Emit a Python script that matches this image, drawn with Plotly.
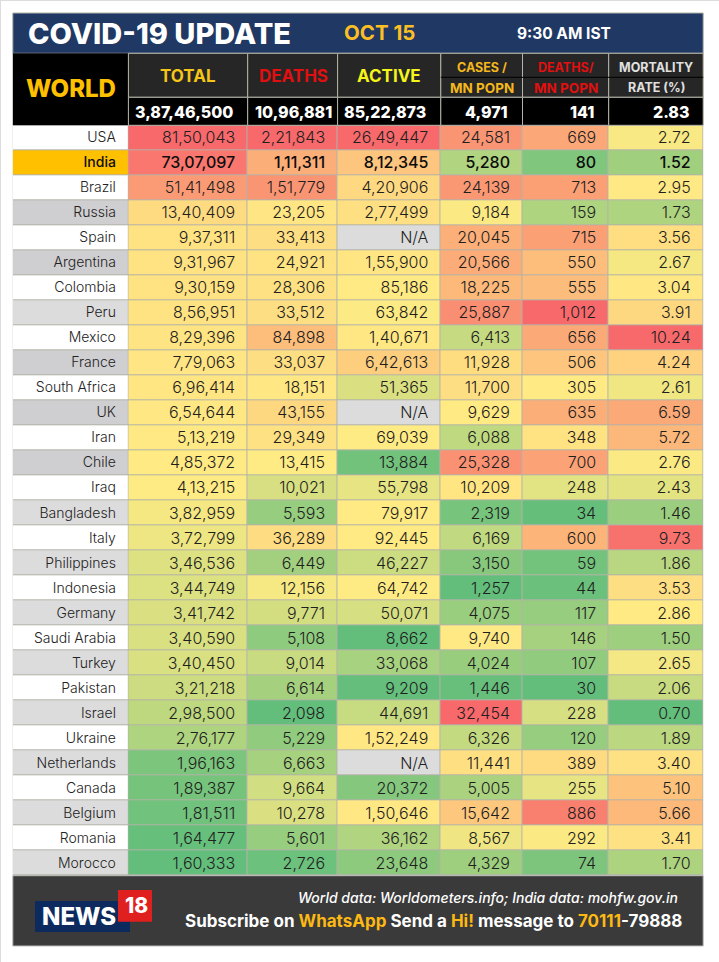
import numpy as np
import plotly.graph_objects as go

# Data (Indian digit grouping kept as labels)
countries = ["USA", "India", "Brazil", "Russia", "Spain", "Argentina", "Colombia", "Peru", "Mexico", "France",
             "South Africa", "UK", "Iran", "Chile", "Iraq", "Bangladesh", "Italy", "Philippines", "Indonesia",
             "Germany", "Saudi Arabia", "Turkey", "Pakistan", "Israel", "Ukraine", "Netherlands", "Canada",
             "Belgium", "Romania", "Morocco"]
total = ["81,50,043", "73,07,097", "51,41,498", "13,40,409", "9,37,311", "9,31,967", "9,30,159", "8,56,951",
         "8,29,396", "7,79,063", "6,96,414", "6,54,644", "5,13,219", "4,85,372", "4,13,215", "3,82,959",
         "3,72,799", "3,46,536", "3,44,749", "3,41,742", "3,40,590", "3,40,450", "3,21,218", "2,98,500",
         "2,76,177", "1,96,163", "1,89,387", "1,81,511", "1,64,477", "1,60,333"]
deaths = ["2,21,843", "1,11,311", "1,51,779", "23,205", "33,413", "24,921", "28,306", "33,512", "84,898", "33,037",
          "18,151", "43,155", "29,349", "13,415", "10,021", "5,593", "36,289", "6,449", "12,156", "9,771",
          "5,108", "9,014", "6,614", "2,098", "5,229", "6,663", "9,664", "10,278", "5,601", "2,726"]
active = ["26,49,447", "8,12,345", "4,20,906", "2,77,499", "N/A", "1,55,900", "85,186", "63,842", "1,40,671",
          "6,42,613", "51,365", "N/A", "69,039", "13,884", "55,798", "79,917", "92,445", "46,227", "64,742",
          "50,071", "8,662", "33,068", "9,209", "44,691", "1,52,249", "N/A", "20,372", "1,50,646", "36,162", "23,648"]
cases_mn = ["24,581", "5,280", "24,139", "9,184", "20,045", "20,566", "18,225", "25,887", "6,413", "11,928",
            "11,700", "9,629", "6,088", "25,328", "10,209", "2,319", "6,169", "3,150", "1,257", "4,075",
            "9,740", "4,024", "1,446", "32,454", "6,326", "11,441", "5,005", "15,642", "8,567", "4,329"]
deaths_mn = ["669", "80", "713", "159", "715", "550", "555", "1,012", "656", "506", "305", "635", "348", "700",
             "248", "34", "600", "59", "44", "117", "146", "107", "30", "228", "120", "389", "255", "886", "292", "74"]
mortality = ["2.72", "1.52", "2.95", "1.73", "3.56", "2.67", "3.04", "3.91", "10.24", "4.24", "2.61", "6.59",
             "5.72", "2.76", "2.43", "1.46", "9.73", "1.86", "3.53", "2.86", "1.50", "2.65", "2.06", "0.70",
             "1.89", "3.40", "5.10", "5.66", "3.41", "1.70"]
world_totals = ["3,87,46,500", "10,96,881", "85,22,873", "4,971", "141", "2.83"]
row_shade = [0, 3, 0, 2, 0, 2, 0, 1, 0, 2, 0, 2, 0, 2, 0, 1, 0, 1, 0, 1, 0, 1, 0, 1, 0, 1, 0, 1, 0, 1]

W, H = 719, 962
FONT = "Inter"
COL_EDGES = [128.4, 247.7, 337.6, 440.8, 522.5, 608.7, 703.2]
LEFT = 12.8
ROWS_TOP, ROWS_BOTTOM = 125.3, 875.7
GRID = "#b3b3a9"
PAD = 12.5
TOTAL_PADS = [13, 4, 13, 13, 12.5, 12]


def py(y):
    return 1 - y / H


def to_num(label):
    return np.nan if label == "N/A" else float(label.replace(",", ""))


def scale_column(labels):
    # green - yellow - red around the column median, like the sheet's colour rule
    v = np.array([to_num(s) for s in labels])
    lo, mid, hi = np.nanmin(v), np.nanmedian(v), np.nanmax(v)
    z = np.where(v >= mid, (v - mid) / (hi - mid), (v - mid) / (mid - lo))
    return np.where(np.isnan(v), -2.0, z)


columns = [total, deaths, active, cases_mn, deaths_mn, mortality]
z = np.column_stack([scale_column(c) for c in columns])
rows = list(range(len(countries)))

fig = go.Figure()

fig.add_trace(go.Heatmap(
    z=z, x=COL_EDGES, y=rows, xgap=1, ygap=1, zmin=-2, zmax=1, showscale=False, hoverinfo="skip",
    colorscale=[[0, "#dcdcdc"], [0.33, "#dcdcdc"], [0.3333, "#63be7b"], [0.66667, "#ffeb84"], [1, "#f8696b"]],
))
fig.add_trace(go.Heatmap(
    z=[[s] for s in row_shade], x=[LEFT, COL_EDGES[0]], y=rows, xgap=1, ygap=1, zmin=0, zmax=3,
    showscale=False, hoverinfo="skip",
    colorscale=[[0, "#ffffff"], [0.2, "#ffffff"], [0.2, "#dcdcdc"], [0.5, "#dcdcdc"], [0.5, "#cfced0"],
                [0.8, "#cfced0"], [0.8, "#ffc000"], [1, "#ffc000"]],
))

# Values, right aligned in each column
for edge, labels in zip(COL_EDGES[1:], columns):
    fig.add_trace(go.Scatter(
        x=[edge - PAD] * len(labels), y=[r + 0.06 for r in rows], mode="text", text=labels,
        textposition="middle left",
        textfont=dict(family=FONT, size=16, color=["#0d0d0d" if c == "India" else "#1f1f1f" for c in countries],
                      weight=[500 if c == "India" else 300 for c in countries]),
        hoverinfo="skip", cliponaxis=False,
    ))
fig.add_trace(go.Scatter(
    x=[COL_EDGES[0] - PAD] * len(countries), y=[r + 0.04 for r in rows], mode="text", text=countries,
    textposition="middle left",
    textfont=dict(family=FONT, size=14, color=["#0d0d0d" if c == "India" else "#222222" for c in countries],
                  weight=[500 if c == "India" else 300 for c in countries]),
    hoverinfo="skip", cliponaxis=False,
))


def box(x0, x1, y0, y1, fill, line=None):
    fig.add_shape(type="rect", xref="paper", yref="paper", x0=x0 / W, x1=x1 / W, y0=py(y0), y1=py(y1),
                  fillcolor=fill, line=dict(color=line, width=1) if line else dict(width=0))


def label(x, y, text, size, color="#ffffff", anchor="center", weight=700, italic=False):
    fig.add_annotation(xref="paper", yref="paper", x=x / W, y=py(y), text=text, showarrow=False, xanchor=anchor,
                       yanchor="middle", font=dict(family=FONT, size=size, color=color, weight=weight,
                                                   style="italic" if italic else "normal"))


# Page edge, banner
box(0, W, 0, 1, "#dcdcdc")
box(0, 1, 0, H, "#dcdcdc")
box(LEFT, COL_EDGES[-1], 13, 53.3, "#1f3864", GRID)
label(26, 33.5, "COVID-19 UPDATE", 29, anchor="left", weight=800)
label(342, 33, "OCT 15", 20.5, "#fbbf24", anchor="left")
label(515, 34, "9:30 AM IST", 15.5, anchor="left")

# Header block
box(LEFT, COL_EDGES[0], 53.3, 125.3, "#000000")
label(71, 88, "WORLD", 24, "#ffc000", weight=800)
for i in range(6):
    x0, x1 = COL_EDGES[i], COL_EDGES[i + 1]
    box(x0, x1, 53.3, 97.3, "#262626", GRID)
    box(x0, x1, 97.3, 125.3, "#000000", GRID)
    label(x1 - TOTAL_PADS[i], 112, world_totals[i], 16, anchor="right", weight=800)
fig.add_shape(type="line", xref="paper", yref="paper", x0=COL_EDGES[3] / W, x1=COL_EDGES[-1] / W,
              y0=py(77.3), y1=py(77.3), line=dict(color="#000000", width=1))

label(188, 75.5, "TOTAL", 17, "#f5c518")
label(293, 75.5, "DEATHS", 17, "#e01010")
label(389, 75.5, "ACTIVE", 17, "#f5f51a")
label(482, 67.5, "CASES /", 12.5, "#f5b81c")
label(482, 87.5, "MN POPN", 13.5, "#f5b81c")
label(566, 67.5, "DEATHS/", 12.5, "#e01010")
label(566, 87.5, "MN POPN", 13.5, "#e01010")
label(656, 67.5, "MORTALITY", 12.5, "#e0e0e0")
label(656, 87.5, "RATE (%)", 12.5, "#e0e0e0")

# Footer
box(LEFT, COL_EDGES[-1], 875.7, 946, "#3a3a3a", "#bdbdbd")
label(680, 897.5, "World data: Worldometers.info; India data: mohfw.gov.in", 14, anchor="right", weight=500, italic=True)
label(684, 920.5, 'Subscribe on <span style="color:#fdb913">WhatsApp</span> Send a '
                  '<span style="color:#fdb913">Hi!</span> message to <span style="color:#fdb913">70111</span>-79888',
      17, anchor="right")

# News18 logo
box(35, 130, 901, 932, "#0d2a5e")
box(118, 152, 890, 921.7, "#e0201f")
label(79, 916, "NEWS", 24, anchor="center", weight=800)
label(136.5, 905, "18", 21, anchor="center", weight=800)

fig.update_layout(
    width=W, height=H, margin=dict(l=0, r=0, t=0, b=0), paper_bgcolor="#ffffff", plot_bgcolor=GRID,
    showlegend=False,
    xaxis=dict(domain=[LEFT / W, COL_EDGES[-1] / W], range=[LEFT, COL_EDGES[-1]], visible=False),
    yaxis=dict(domain=[py(ROWS_BOTTOM), py(ROWS_TOP)], range=[len(countries) - 0.5, -0.5], visible=False),
)

fig.write_html("out.html", config={"displayModeBar": False},
               post_script="document.body.style.margin='0';document.documentElement.style.overflow='hidden';")
